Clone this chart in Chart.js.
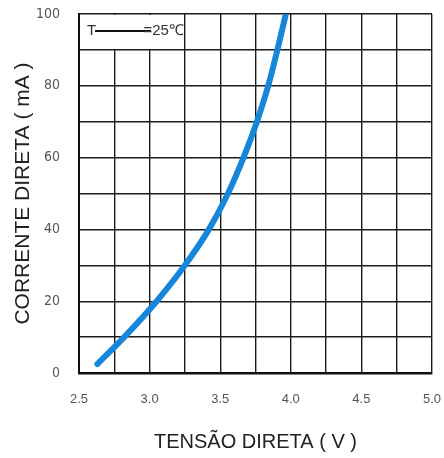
<!DOCTYPE html>
<html>
<head>
<meta charset="utf-8">
<script src="https://cdn.jsdelivr.net/npm/chart.js@4/dist/chart.umd.min.js"></script>
<style>
  html, body { margin: 0; padding: 0; background: #fff; }
  canvas { display: block; }
</style>
</head>
<body>
<canvas id="chart" width="444" height="458"></canvas>
<script>
// Forward voltage (V) vs forward current (mA) at 25 °C
const voltage = [2.63, 2.82, 3.05, 3.25, 3.42, 3.555, 3.665, 3.76, 3.84, 3.905, 3.962];
const current = [2.5, 10, 20, 30, 40, 50, 60, 70, 80, 90, 99.5];

const xTickValues = [2.5, 3.0, 3.5, 4.0, 4.5, 5.0];
const xTickLabels = ['2.5', '3.0', '3.5', '4.0', '4.5', '5.0'];
const yTickValues = [0, 20, 40, 60, 80, 100];
const yTickLabels = ['0', '20', '40', '60', '80', '100'];

const xTitle = 'TENSÃO DIRETA ( V )';
const yTitle = 'CORRENTE DIRETA ( mA )';
const noteLeft = 'T';
const noteRight = '=25℃';

const points = voltage.map((v, i) => ({ x: v, y: current[i] }));

function labelFor(values, labels, v) {
  const i = values.findIndex(t => Math.abs(t - v) < 1e-6);
  return i >= 0 ? labels[i] : '';
}

// keep tick-label overflow from shrinking the plot area
function noEdgePadding(scale) {
  scale.paddingLeft = 0;
  scale.paddingRight = 0;
  scale.paddingTop = 0;
  scale.paddingBottom = 0;
}

// White note box in the upper-left cell block with the temperature condition
const notePlugin = {
  id: 'tempNote',
  beforeDatasetsDraw(chart) {
    const { ctx, chartArea, scales } = chart;
    const x0 = chartArea.left;
    const x1 = scales.x.getPixelForValue(3.25);
    const y0 = chartArea.top;
    const y1 = scales.y.getPixelForValue(90);
    ctx.save();
    ctx.fillStyle = '#ffffff';
    ctx.fillRect(x0 + 1.5, y0 + 1, x1 - x0 - 2.5, y1 - y0 - 2);
    const cy = (y0 + y1) / 2 - 1;
    ctx.fillStyle = '#333';
    ctx.font = '15px "Liberation Sans", Arial, sans-serif';
    ctx.textBaseline = 'middle';
    ctx.textAlign = 'left';
    ctx.fillText(noteLeft, x0 + 8, cy);
    ctx.strokeStyle = '#111';
    ctx.lineWidth = 2;
    ctx.beginPath();
    ctx.moveTo(x0 + 16, cy);
    ctx.lineTo(x0 + 72, cy);
    ctx.stroke();
    ctx.textAlign = 'right';
    ctx.fillText(noteRight, x1 - 1, cy);
    ctx.restore();
  }
};

new Chart(document.getElementById('chart'), {
  type: 'line',
  data: {
    datasets: [{
      data: points,
      borderColor: '#1686db',
      borderWidth: 6,
      borderCapStyle: 'round',
      pointRadius: 0,
      fill: false,
      cubicInterpolationMode: 'monotone'
    }]
  },
  options: {
    responsive: false,
    animation: false,
    layout: { padding: { left: 0, right: 12, top: 14, bottom: 0 } },
    plugins: { legend: { display: false }, tooltip: { enabled: false } },
    scales: {
      x: {
        type: 'linear',
        min: 2.5,
        max: 5.0,
        afterFit(scale) { scale.height = 85; noEdgePadding(scale); },
        ticks: {
          stepSize: 0.25,
          autoSkip: false,
          maxRotation: 0,
          padding: 19,
          color: '#555',
          font: { size: 13, family: '"Liberation Sans", Arial, sans-serif' },
          callback: v => labelFor(xTickValues, xTickLabels, v)
        },
        grid: { color: '#1c1c1c', lineWidth: 1.4, drawTicks: false },
        border: { color: '#111', width: 2.5 },
        title: {
          display: true,
          text: xTitle,
          color: '#222',
          font: { size: 20, family: '"Liberation Sans", Arial, sans-serif' },
          padding: { top: 0, bottom: 4 }
        }
      },
      y: {
        type: 'linear',
        min: 0,
        max: 100,
        afterFit(scale) { scale.width = 79; noEdgePadding(scale); },
        ticks: {
          stepSize: 10,
          autoSkip: false,
          padding: 19,
          color: '#555',
          font: { size: 14, family: '"Liberation Sans Narrow", "DejaVu Sans Condensed", Arial, sans-serif' },
          callback: v => labelFor(yTickValues, yTickLabels, v)
        },
        grid: { color: '#1c1c1c', lineWidth: 1.4, drawTicks: false },
        border: { color: '#111', width: 2 },
        title: {
          display: true,
          text: yTitle,
          color: '#222',
          font: { size: 21, family: '"Liberation Sans", Arial, sans-serif' },
          padding: { top: 11, bottom: 0 }
        }
      }
    }
  },
  plugins: [notePlugin]
});
</script>
</body>
</html>
